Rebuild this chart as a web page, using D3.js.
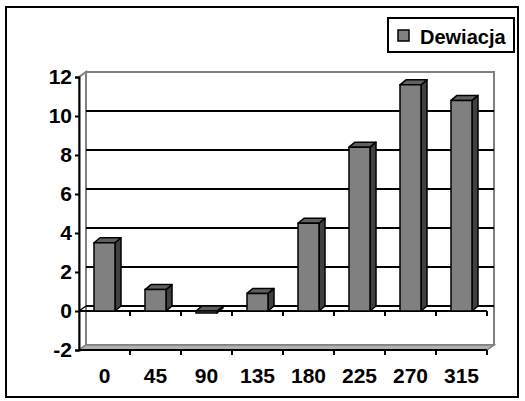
<!DOCTYPE html>
<html>
<head>
<meta charset="utf-8">
<script src="https://cdn.jsdelivr.net/npm/d3@7/dist/d3.min.js"></script>
<style>
  html, body { margin: 0; padding: 0; background: #fff; }
  text { font-family: "Liberation Sans", Arial, sans-serif; font-weight: bold; }
</style>
</head>
<body>
<svg id="chart" width="525" height="401"></svg>
<script>
// ── Data ─────────────────────────────────────────────────────────────────────
const categories = ["0", "45", "90", "135", "180", "225", "270", "315"];
const dewiacja   = [3.5, 1.1, -0.1, 0.9, 4.5, 8.4, 11.6, 10.8];
const yTicks     = [-2, 0, 2, 4, 6, 8, 10, 12];
const seriesName = "Dewiacja";

const svg = d3.select("#chart");

// front plane scales
const x = d3.scaleBand().domain(categories).range([79, 487]).padding(0);
const y = d3.scaleLinear().domain([-2, 12]).range([350, 77]);

// 3D depth offsets
const WX = 7, WY = -5;   // walls
const BX = 6, BY = -5;   // bars
const barW = 21;

const x0 = x.range()[0], x1 = x.range()[1];
const yMin = y(-2), yMax = y(12);

const poly = pts => "M" + pts.map(p => p.join(",")).join("L") + "Z";

// ── Walls ────────────────────────────────────────────────────────────────────
svg.append("path") // back wall
  .attr("d", poly([[x0 + WX, yMax + WY], [x1 + WX, yMax + WY], [x1 + WX, yMin + WY], [x0 + WX, yMin + WY]]))
  .attr("fill", "#fff").attr("stroke", "#808080").attr("stroke-width", 2);

svg.append("path") // side wall
  .attr("d", poly([[x0, yMax], [x0 + WX, yMax + WY], [x0 + WX, yMin + WY], [x0, yMin]]))
  .attr("fill", "#fff").attr("stroke", "#808080").attr("stroke-width", 2);

svg.append("path") // floor
  .attr("d", poly([[x0, yMin], [x0 + WX, yMin + WY], [x1 + WX, yMin + WY], [x1, yMin]]))
  .attr("fill", "#b0b0b0").attr("stroke", "#808080").attr("stroke-width", 1.5);

// gridlines on back wall
svg.append("g").selectAll("line")
  .data(yTicks.filter(v => v > -2 && v < 12))
  .join("line")
  .attr("x1", x0 + WX).attr("x2", x1 + WX)
  .attr("y1", d => y(d) + WY).attr("y2", d => y(d) + WY)
  .attr("stroke", "#000").attr("stroke-width", 2);

// zero plane edges: side diagonal + front line
svg.append("line")
  .attr("x1", x0).attr("y1", y(0)).attr("x2", x0 + WX).attr("y2", y(0) + WY)
  .attr("stroke", "#000").attr("stroke-width", 1.5);
svg.append("line")
  .attr("x1", x0).attr("x2", x1)
  .attr("y1", y(0)).attr("y2", y(0))
  .attr("stroke", "#000").attr("stroke-width", 2);

// ── Bars ─────────────────────────────────────────────────────────────────────
const bars = svg.append("g").selectAll("g")
  .data(categories.map((c, i) => ({ cat: c, v: dewiacja[i] })))
  .join("g");

bars.each(function(d) {
  const g = d3.select(this);
  const l = x(d.cat) + x.bandwidth() / 2 - barW / 2, r = l + barW;
  const t = y(Math.max(d.v, 0)), b = y(Math.min(d.v, 0));
  g.append("path") // side
    .attr("d", poly([[r, t], [r + BX, t + BY], [r + BX, b + BY], [r, b]]))
    .attr("fill", "#404040").attr("stroke", "#000").attr("stroke-width", 1.5)
    .attr("stroke-linejoin", "round");
  g.append("path") // top
    .attr("d", poly([[l, t], [l + BX, t + BY], [r + BX, t + BY], [r, t]]))
    .attr("fill", "#606060").attr("stroke", "#000").attr("stroke-width", 1.5)
    .attr("stroke-linejoin", "round");
  g.append("path") // front
    .attr("d", poly([[l, t], [r, t], [r, b], [l, b]]))
    .attr("fill", "#808080").attr("stroke", "#000").attr("stroke-width", 1.5);
});

// ── Axes ─────────────────────────────────────────────────────────────────────
// value axis (front left edge)
const yAxis = d3.axisLeft(y).tickValues(yTicks).tickSize(4).tickPadding(3).tickFormat(d => String(d));
const gy = svg.append("g").attr("transform", `translate(${x0},0)`).call(yAxis);
gy.select(".domain").attr("stroke", "#000").attr("stroke-width", 2);
gy.selectAll(".tick line").attr("stroke", "#000").attr("stroke-width", 2);
gy.selectAll(".tick text").attr("font-size", "21px").attr("fill", "#000")
  .attr("font-family", "Liberation Sans, Arial, sans-serif").attr("font-weight", "bold");

// category boundary ticks at zero line and floor edge
const bounds = categories.map(c => x(c) + x.bandwidth());
[0, -2].forEach(lv => {
  svg.append("g").selectAll("line").data(bounds).join("line")
    .attr("x1", d => d).attr("x2", d => d)
    .attr("y1", y(lv)).attr("y2", y(lv) + 5)
    .attr("stroke", "#000").attr("stroke-width", 2);
});
svg.append("line") // floor front edge
  .attr("x1", x0).attr("x2", x1).attr("y1", yMin).attr("y2", yMin)
  .attr("stroke", "#000").attr("stroke-width", 2);

// category labels
svg.append("g").selectAll("text").data(categories).join("text")
  .attr("x", d => x(d) + x.bandwidth() / 2)
  .attr("y", 383)
  .attr("text-anchor", "middle")
  .attr("font-size", "21px")
  .text(d => d);

// ── Legend ───────────────────────────────────────────────────────────────────
const leg = svg.append("g");
leg.append("rect").attr("x", 388).attr("y", 18).attr("width", 126).attr("height", 34)
  .attr("fill", "#fff").attr("stroke", "#000").attr("stroke-width", 2);
leg.append("rect").attr("x", 398).attr("y", 30).attr("width", 11).attr("height", 11)
  .attr("fill", "#808080").attr("stroke", "#000").attr("stroke-width", 1.5);
leg.append("text").attr("x", 420).attr("y", 44).attr("font-size", "20px").text(seriesName);

// outer chart border
svg.append("rect").attr("x", 6).attr("y", 7).attr("width", 512).attr("height", 390)
  .attr("fill", "none").attr("stroke", "#000").attr("stroke-width", 2);
</script>
</body>
</html>
